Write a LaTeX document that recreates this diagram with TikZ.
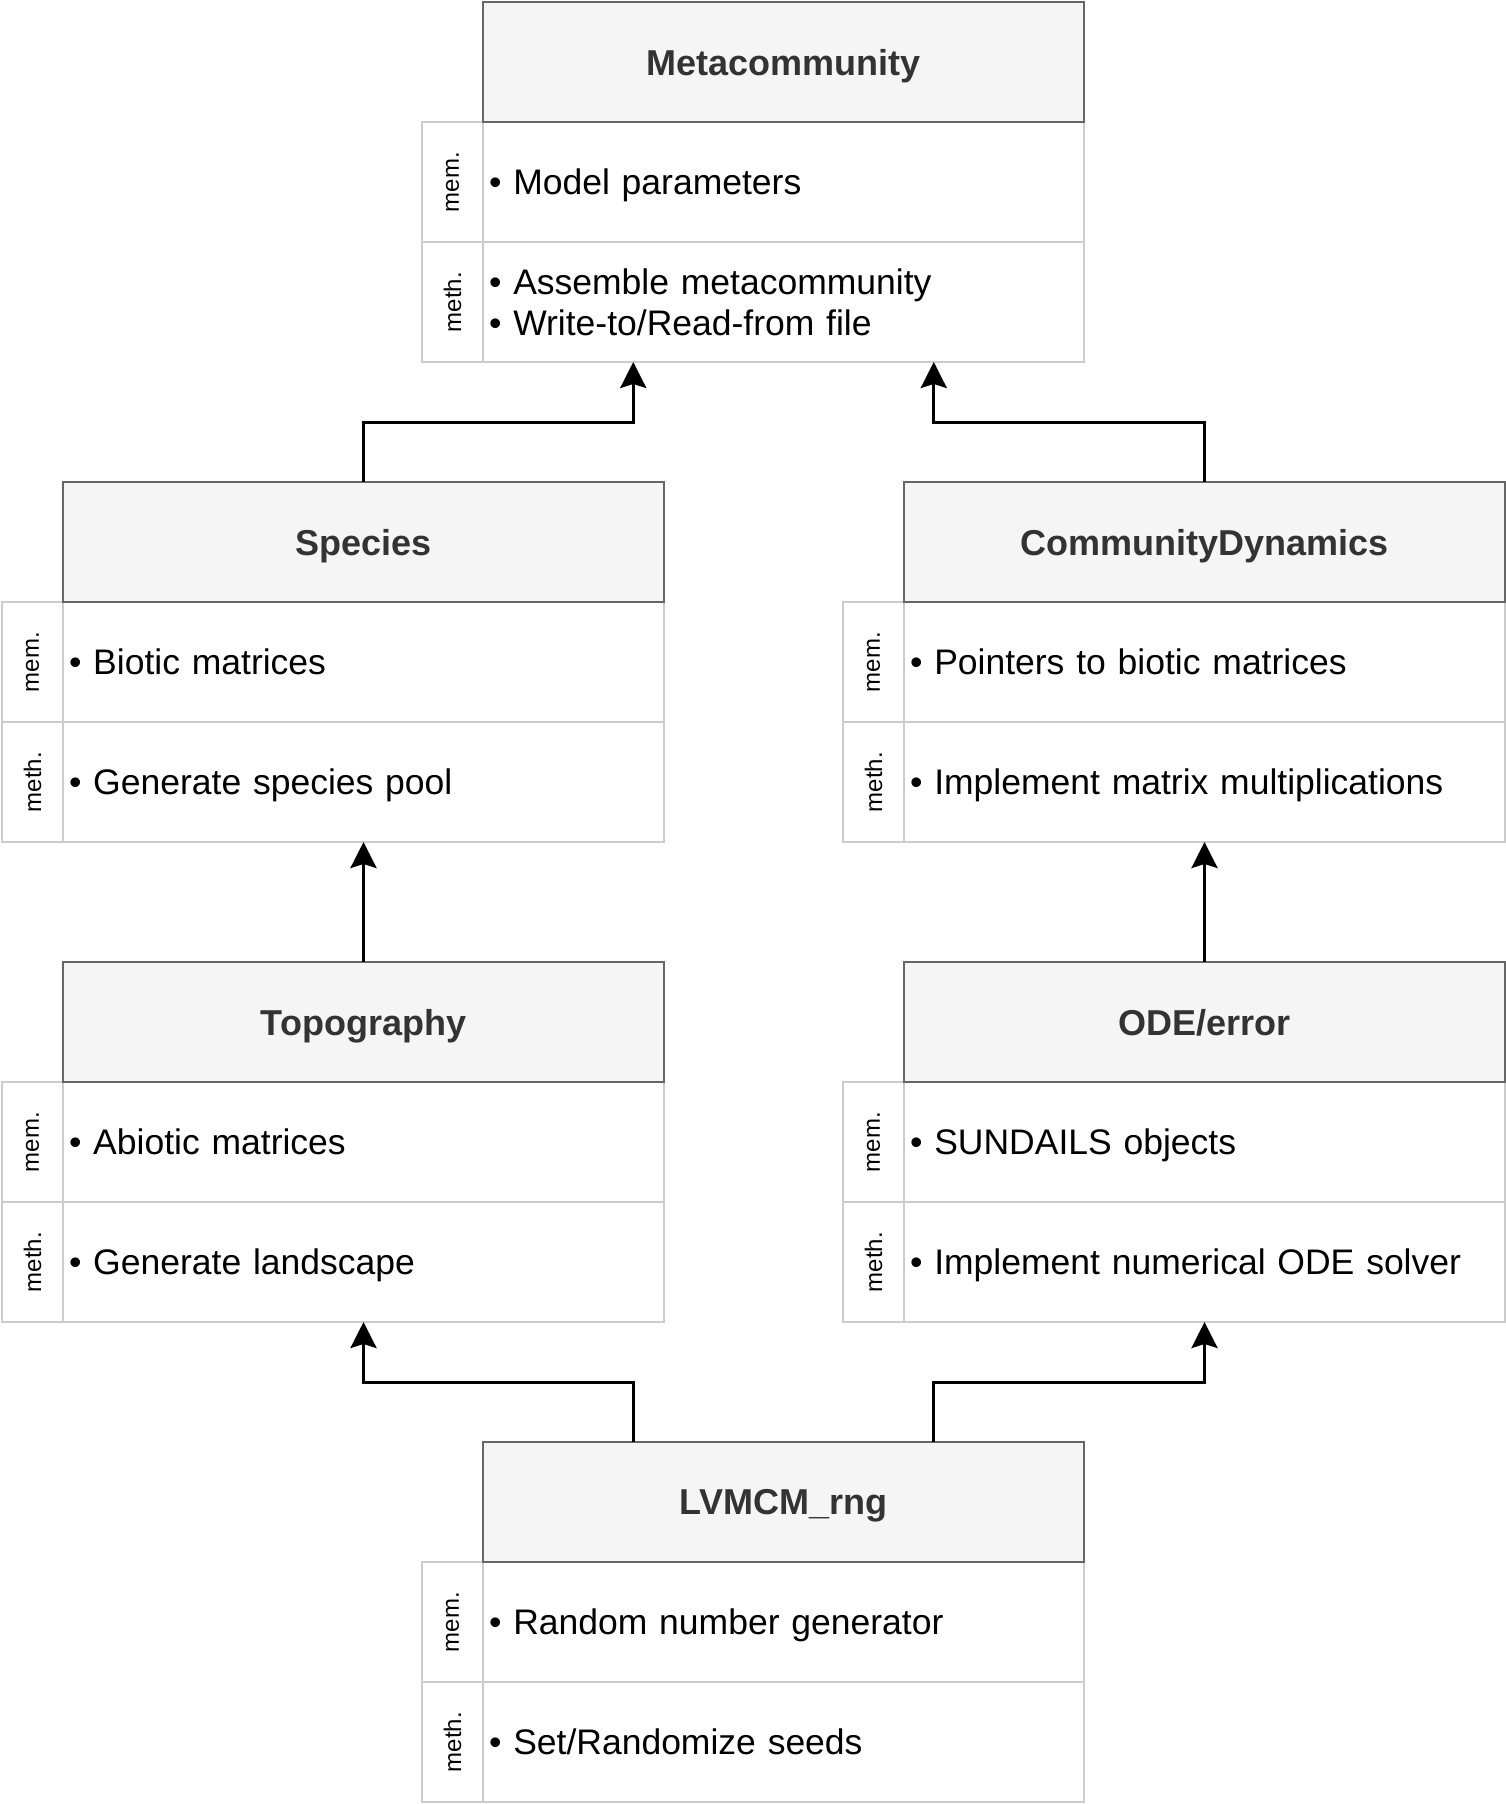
\documentclass[tikz,border=0pt]{standalone}
\usepackage{fontspec}
\setmainfont{Liberation Sans}
\usetikzlibrary{arrows.meta,calc}
\definecolor{hdrfill}{HTML}{F5F5F5}
\definecolor{hdrdraw}{HTML}{666666}
\definecolor{hdrtext}{HTML}{333333}
\definecolor{rowdraw}{HTML}{CCCCCC}
\tikzset{
  hdr/.style={draw=hdrdraw, fill=hdrfill, line width=2.5pt, minimum width=601pt, minimum height=120pt, inner sep=0pt, outer sep=0pt, anchor=north west, text=hdrtext, text depth=0pt, font=\fontsize{36}{41}\selectfont\bfseries},
  rowbox/.style={draw=rowdraw, fill=white, line width=2.5pt, text width=589pt, inner xsep=6pt, inner ysep=0pt, minimum height=120pt, outer sep=0pt, anchor=north west, align=left, font=\fontsize{35.5}{41}\selectfont},
  oneline/.style={text depth=0pt},
  labbox/.style={draw=rowdraw, fill=white, line width=2.5pt, minimum width=61pt, minimum height=120pt, inner sep=0pt, outer sep=0pt, anchor=north west, font=\fontsize{24}{28}\selectfont},
  conn/.style={draw=black, line width=3pt, -{Stealth[length=26pt,width=26pt,inset=4pt]}},
}
\newcommand\classblock[7]{%
  \node[labbox] (#1-meml) at ({#2-61},{-#3-120}) {\rotatebox{90}{mem.}};
  \node[labbox] (#1-methl) at ({#2-61},{-#3-240}) {\rotatebox{90}{meth.}};
  \node[rowbox, oneline] (#1-mem) at ({#2},{-#3-120}) {#5};
  \node[rowbox, #7] (#1-meth) at ({#2},{-#3-240}) {#6};
  \node[hdr] (#1) at ({#2},{-#3}) {#4};
}
\begin{document}
\begin{tikzpicture}[x=1pt,y=1pt]
\useasboundingbox (0,0) rectangle (1506,-1804);
\classblock{meta}{483}{2}{Metacommunity}{• Model parameters}{• Assemble metacommunity\\• Write-to/Read-from file}{}
\classblock{spec}{63}{482}{Species}{• Biotic matrices}{• Generate species pool}{oneline}
\classblock{cd}{904}{482}{CommunityDynamics}{• Pointers to biotic matrices}{• Implement matrix multiplications}{oneline}
\classblock{topo}{63}{962}{Topography}{• Abiotic matrices}{• Generate landscape}{oneline}
\classblock{ode}{904}{962}{ODE/error}{• SUNDAILS objects}{• Implement numerical ODE solver}{oneline}
\classblock{rng}{483}{1442}{LVMCM\_rng}{• Random number generator}{• Set/Randomize seeds}{oneline}
\coordinate (meta-in1) at ($(meta-meth.south west)!0.25!(meta-meth.south east)$);
\coordinate (meta-in2) at ($(meta-meth.south west)!0.75!(meta-meth.south east)$);
\coordinate (rng-out1) at ($(rng.north west)!0.25!(rng.north east)$);
\coordinate (rng-out2) at ($(rng.north west)!0.75!(rng.north east)$);
\draw[conn] (spec.north) |- ([yshift=-60pt]meta-in1) -- (meta-in1);
\draw[conn] (cd.north) |- ([yshift=-60pt]meta-in2) -- (meta-in2);
\draw[conn] (topo.north) -- (spec-meth.south);
\draw[conn] (ode.north) -- (cd-meth.south);
\draw[conn] (rng-out1) |- ([yshift=-60pt]topo-meth.south) -- (topo-meth.south);
\draw[conn] (rng-out2) |- ([yshift=-60pt]ode-meth.south) -- (ode-meth.south);
\end{tikzpicture}
\end{document}
